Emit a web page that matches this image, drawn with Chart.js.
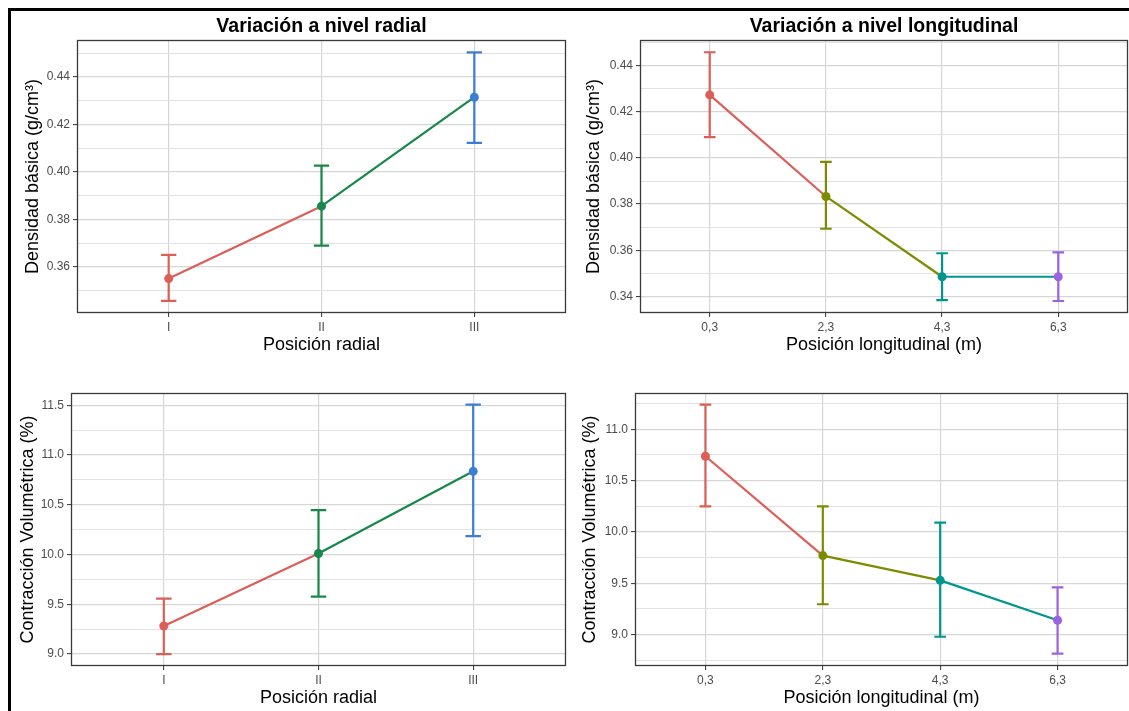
<!DOCTYPE html>
<html lang="es">
<head>
<meta charset="utf-8">
<title>Variación radial y longitudinal de la madera</title>
<script src="https://cdn.jsdelivr.net/npm/chart.js@4.4.1/dist/chart.umd.min.js"></script>
<style>
  html, body { margin: 0; padding: 0; background: #fff; }
  #figure { position: relative; width: 1129px; height: 711px; overflow: hidden; background: #fff; }
  #frame { position: absolute; left: 8px; top: 8px; width: 1200px; height: 800px;
           border-top: 3px solid #000; border-left: 3px solid #000; }
  canvas { position: absolute; display: block; }
</style>
</head>
<body>
<div id="figure">
  <div id="frame"></div>
  <canvas id="c1" width="558" height="348" style="left:12px; top:12px"></canvas>
  <canvas id="c2" width="559" height="348" style="left:570px; top:12px"></canvas>
  <canvas id="c3" width="558" height="349" style="left:12px; top:362px"></canvas>
  <canvas id="c4" width="559" height="349" style="left:570px; top:362px"></canvas>
</div>
<script>
// ---- categories ----
const radialCategories = ['I', 'II', 'III'];
const longitudinalCategories = ['0,3', '2,3', '4,3', '6,3'];

// ---- group colours ----
const radialColors = ['#DB5F57', '#17874A', '#3C7DD6'];
const longitudinalColors = ['#DB5F57', '#7D8B00', '#00968F', '#9B63DF'];

// ---- Densidad básica (g/cm3): mean and interval per radial position ----
const densityRadialMean = [0.3551, 0.3856, 0.4315];
const densityRadialLow  = [0.3457, 0.3690, 0.4123];
const densityRadialHigh = [0.3651, 0.4027, 0.4504];

// ---- Densidad básica (g/cm3): mean and interval per height ----
const densityLongMean = [0.4273, 0.3833, 0.3485, 0.3485];
const densityLongLow  = [0.4090, 0.3693, 0.3384, 0.3380];
const densityLongHigh = [0.4458, 0.3983, 0.3587, 0.3591];

// ---- Contracción volumétrica (%): per radial position ----
const shrinkRadialMean = [9.282, 10.010, 10.836];
const shrinkRadialLow  = [9.000, 9.577, 10.184];
const shrinkRadialHigh = [9.557, 10.447, 11.507];

// ---- Contracción volumétrica (%): per height ----
const shrinkLongMean = [10.737, 9.770, 9.529, 9.140];
const shrinkLongLow  = [10.250, 9.296, 8.980, 8.815];
const shrinkLongHigh = [11.240, 10.250, 10.091, 9.461];

// ---- y tick labels ----
const densityTicks = [0.34, 0.36, 0.38, 0.40, 0.42, 0.44];
const shrinkRadialTicks = [9.0, 9.5, 10.0, 10.5, 11.0, 11.5];
const shrinkLongTicks = [9.0, 9.5, 10.0, 10.5, 11.0];

const FONT = "'Liberation Sans', Arial, Helvetica, sans-serif";
Chart.defaults.font.family = FONT;

const MAJOR_GRID = '#d6d6d6';
const MINOR_GRID = '#e2e2e2';
const AXIS_TEXT = '#4d4d4d';

function buildPanel(canvasId, spec) {
  const n = spec.categories.length;
  const xIdx = spec.categories.map((_, i) => i);
  const points = spec.mean.map((v, i) => ({ x: i, y: v }));

  // major ticks plus minor gridlines half way between them
  const step = spec.ticks[1] - spec.ticks[0];
  const yTicks = [];
  spec.ticks.forEach(v => yTicks.push({ value: v, isMinor: false }));
  for (let k = -1; k < spec.ticks.length; k++) {
    yTicks.push({ value: spec.ticks[0] + (k + 0.5) * step, isMinor: true });
  }
  const yTickList = yTicks
    .filter(t => t.value >= spec.yMin && t.value <= spec.yMax)
    .sort((a, b) => a.value - b.value);

  // error bars drawn under the line and points
  const errorBars = {
    id: 'errorBars' + canvasId,
    beforeDatasetsDraw(chart) {
      const { ctx, scales: { x, y } } = chart;
      ctx.save();
      ctx.lineWidth = 2.2;
      ctx.lineCap = 'butt';
      for (let i = 0; i < spec.mean.length; i++) {
        const px = x.getPixelForValue(i);
        const xl = x.getPixelForValue(i - 0.05);
        const xr = x.getPixelForValue(i + 0.05);
        const yl = y.getPixelForValue(spec.low[i]);
        const yh = y.getPixelForValue(spec.high[i]);
        ctx.strokeStyle = spec.colors[i];
        ctx.beginPath();
        ctx.moveTo(px, yl); ctx.lineTo(px, yh);
        ctx.moveTo(xl, yh); ctx.lineTo(xr, yh);
        ctx.moveTo(xl, yl); ctx.lineTo(xr, yl);
        ctx.stroke();
      }
      ctx.restore();
    }
  };

  // panel border on all four sides
  const panelBorder = {
    id: 'panelBorder' + canvasId,
    afterDraw(chart) {
      const { ctx, chartArea: a } = chart;
      ctx.save();
      ctx.strokeStyle = '#3a3a3a';
      ctx.lineWidth = 1.3;
      ctx.strokeRect(Math.round(a.left) + 0.5, Math.round(a.top) + 0.5,
                     Math.round(a.right - a.left) - 1, Math.round(a.bottom - a.top) - 1);
      ctx.restore();
    }
  };

  new Chart(document.getElementById(canvasId), {
    type: 'line',
    data: {
      datasets: [{
        data: points,
        borderWidth: 2.2,
        borderColor: spec.colors[0],
        segment: { borderColor: ctx => spec.colors[ctx.p0DataIndex] },
        pointRadius: 4.5,
        pointBorderWidth: 0,
        pointBackgroundColor: spec.colors,
        pointBorderColor: spec.colors,
        tension: 0,
        clip: false
      }]
    },
    options: {
      responsive: false,
      animation: false,
      events: [],
      layout: { autoPadding: false, padding: { top: spec.padTop, right: spec.padRight, bottom: 0, left: 0 } },
      plugins: {
        legend: { display: false },
        tooltip: { enabled: false },
        title: spec.title ? {
          display: true,
          text: spec.title,
          fullSize: false,
          color: '#000',
          font: { size: 19.5, weight: 'bold', family: FONT, lineHeight: 1.2 },
          padding: { top: 3, bottom: 1.6 }
        } : { display: false }
      },
      scales: {
        x: {
          type: 'linear',
          bounds: 'data',
          min: -0.6,
          max: n - 0.4,
          afterBuildTicks: s => { s.ticks = xIdx.map(v => ({ value: v })); },
          afterFit: s => { s.height = spec.xAxisHeight; },
          border: { display: false },
          grid: { color: MAJOR_GRID, lineWidth: 1.2, tickLength: 4, tickColor: '#333', tickWidth: 1 },
          ticks: {
            autoSkip: false, maxRotation: 0, padding: 3,
            color: AXIS_TEXT, font: { size: 12, family: FONT },
            callback: v => spec.categories[Math.round(v)]
          },
          title: {
            display: true, text: spec.xTitle, color: '#000',
            font: { size: 18, family: FONT, lineHeight: 1.2 },
            padding: { top: 0, bottom: spec.xTitlePad }
          }
        },
        y: {
          type: 'linear',
          bounds: 'data',
          min: spec.yMin,
          max: spec.yMax,
          afterBuildTicks: s => { s.ticks = yTickList.map(t => ({ value: t.value, isMinor: t.isMinor })); },
          afterFit: s => { s.width = spec.yAxisWidth; },
          border: { display: false },
          grid: {
            color: c => (c.tick && c.tick.isMinor) ? MINOR_GRID : MAJOR_GRID,
            lineWidth: c => (c.tick && c.tick.isMinor) ? 1 : 1.2,
            tickLength: 4,
            tickColor: c => (c.tick && c.tick.isMinor) ? 'rgba(0,0,0,0)' : '#333',
            tickWidth: 1
          },
          ticks: {
            autoSkip: false, padding: 3,
            color: AXIS_TEXT, font: { size: 12, family: FONT },
            callback: (v, i, ticks) => ticks[i].isMinor ? '' : v.toFixed(spec.decimals)
          },
          title: {
            display: true, text: spec.yTitle, color: '#000',
            font: { size: 18, family: FONT, lineHeight: 1.2 },
            padding: { top: spec.yTitlePad, bottom: 0 }
          }
        }
      }
    },
    plugins: [errorBars, panelBorder]
  });
}

buildPanel('c1', {
  title: 'Variación a nivel radial',
  categories: radialCategories, colors: radialColors,
  mean: densityRadialMean, low: densityRadialLow, high: densityRadialHigh,
  ticks: densityTicks, decimals: 2, yMin: 0.3406, yMax: 0.4556,
  yTitle: 'Densidad básica (g/cm³)', xTitle: 'Posición radial',
  padTop: 0, padRight: 4, yAxisWidth: 65, xAxisHeight: 47, yTitlePad: 10.2, xTitlePad: 4.2
});

buildPanel('c2', {
  title: 'Variación a nivel longitudinal',
  categories: longitudinalCategories, colors: longitudinalColors,
  mean: densityLongMean, low: densityLongLow, high: densityLongHigh,
  ticks: densityTicks, decimals: 2, yMin: 0.3328, yMax: 0.4511,
  yTitle: 'Densidad básica (g/cm³)', xTitle: 'Posición longitudinal (m)',
  padTop: 0, padRight: 1, yAxisWidth: 70, xAxisHeight: 47, yTitlePad: 13.6, xTitlePad: 4.2
});

buildPanel('c3', {
  title: null,
  categories: radialCategories, colors: radialColors,
  mean: shrinkRadialMean, low: shrinkRadialLow, high: shrinkRadialHigh,
  ticks: shrinkRadialTicks, decimals: 1, yMin: 8.88, yMax: 11.623,
  yTitle: 'Contracción Volumétrica (%)', xTitle: 'Posición radial',
  padTop: 31, padRight: 4, yAxisWidth: 59, xAxisHeight: 45, yTitlePad: 5, xTitlePad: 1.9
});

buildPanel('c4', {
  title: null,
  categories: longitudinalCategories, colors: longitudinalColors,
  mean: shrinkLongMean, low: shrinkLongLow, high: shrinkLongHigh,
  ticks: shrinkLongTicks, decimals: 1, yMin: 8.695, yMax: 11.353,
  yTitle: 'Contracción Volumétrica (%)', xTitle: 'Posición longitudinal (m)',
  padTop: 31, padRight: 1, yAxisWidth: 65, xAxisHeight: 45, yTitlePad: 9.2, xTitlePad: 1.9
});
</script>
</body>
</html>
